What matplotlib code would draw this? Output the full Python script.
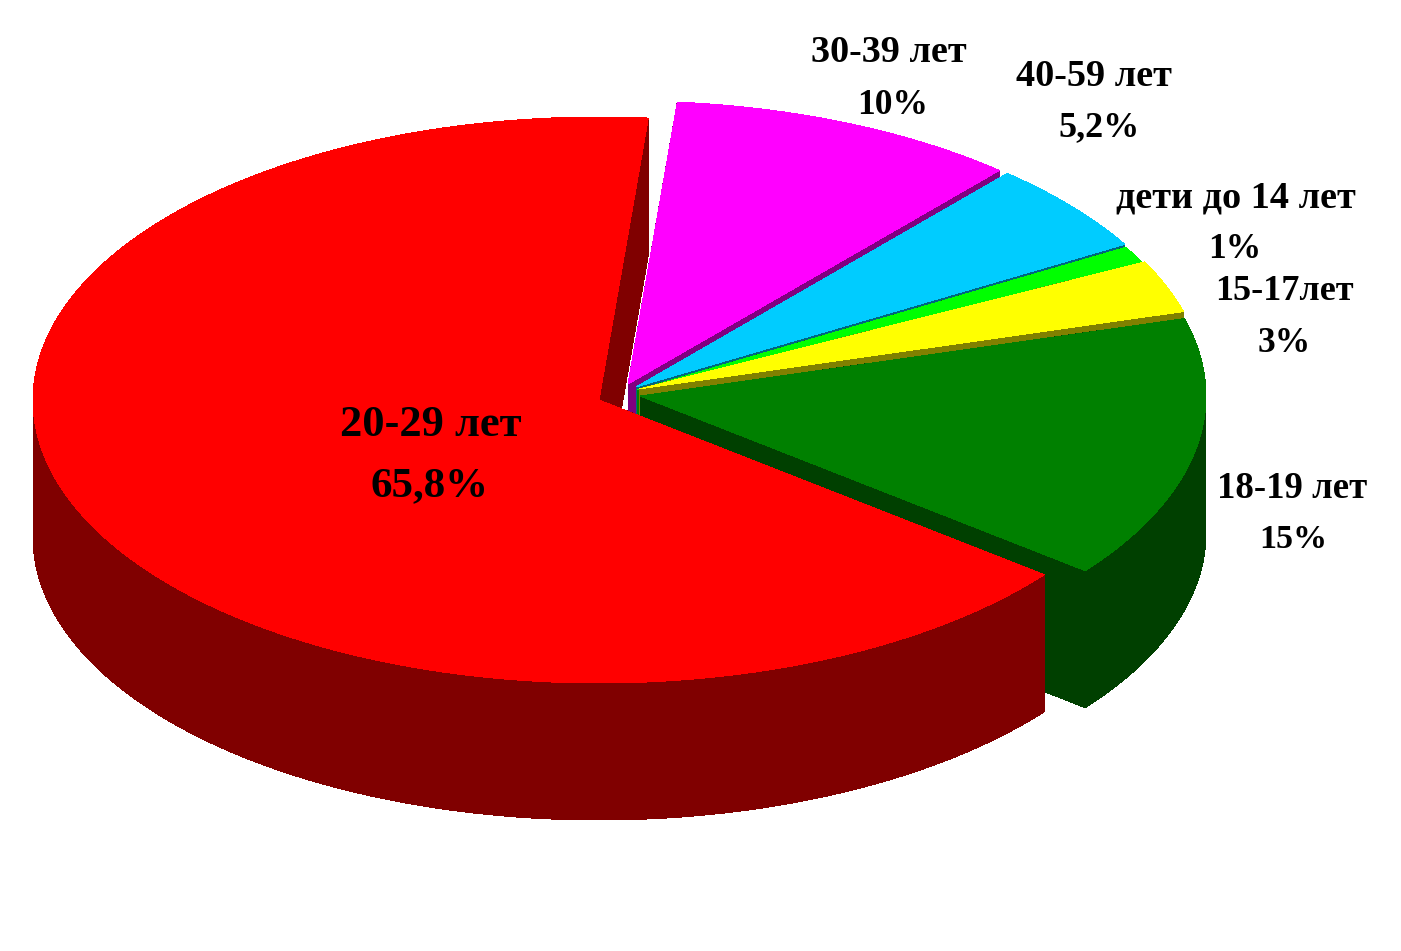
import numpy as np
import matplotlib
matplotlib.use("Agg")
import matplotlib.pyplot as plt

# ---- data (drawn clockwise from the top, back slice first) ----
categories = ["30-39 лет", "40-59 лет", "дети до 14 лет", "15-17лет", "18-19 лет", "20-29 лет"]
values = [10.0, 5.2, 1.0, 3.0, 15.0, 65.8]
value_labels = ["10%", "5,2%", "1%", "3%", "15%", "65,8%"]

# ---- style ----
top_colors = ["#FF00FF", "#00CCFF", "#00FF00", "#FFFF00", "#008000", "#FF0000"]
side_colors = ["#800080", "#006680", "#008000", "#808000", "#004000", "#800000"]
apex_x = [628, 636, 637, 639, 640, 599]
apex_y = [384, 387, 390, 389, 396, 400]
RX, RY, DEPTH = 566, 283, 137
ANGLE_TOP = 85.0   # where the red slice begins; the small slices end there

name_pos = [(889, 53), (1094, 77), (1236, 198), (1284, 292), (1292, 488), (431, 425)]
pct_pos = [(893, 105), (1099, 128), (1235, 249), (1284, 343), (1293, 540), (430, 486)]
name_sizes = [27.5, 27.5, 27.5, 26, 26.5, 32]
pct_sizes = [25.5, 26, 25.5, 25.5, 24.5, 31]

fig = plt.figure(figsize=(14.01, 9.51), dpi=100, facecolor="white")
ax = fig.add_axes([0, 0, 1, 1])
ax.set_xlim(0, 1401)
ax.set_ylim(951, 0)
ax.axis("off")


def arc(cx, cy, a0, a1):
    t = np.radians(np.linspace(a0, a1, max(int(abs(a1 - a0) * 4), 2)))
    return cx + RX * np.cos(t), cy - RY * np.sin(t)


def fill(x, y, color, z):
    ax.fill(x, y, color=color, lw=0, antialiased=False, zorder=z)


# Angular ranges, walking clockwise from the top of the pie.
spans = np.array(values) * 3.6
ends = ANGLE_TOP - np.concatenate([[0], np.cumsum(spans[:-1])])
starts = ends - spans

for i, (a0, a1) in enumerate(zip(starts, ends)):
    cx, cy = apex_x[i], apex_y[i]
    z = 2 + i
    # cut faces
    for a in (a0, a1):
        ex, ey = arc(cx, cy, a, a)
        ex, ey = ex[0], ey[0]
        fill([cx, ex, ex, cx], [cy, ey, ey + DEPTH, cy + DEPTH], side_colors[i], z)
    # outer wall: only the front half of the rim is visible
    lo, hi = max(a0, -180.0), min(a1, 0.0)
    if lo < hi:
        x, y = arc(cx, cy, lo, hi)
        fill(np.r_[x, x[::-1]], np.r_[y, y[::-1] + DEPTH], side_colors[i], z)
    # top
    x, y = arc(cx, cy, a0, a1)
    fill(np.r_[cx, x], np.r_[cy, y], top_colors[i], z)

for i in range(len(categories)):
    ax.text(*name_pos[i], categories[i], ha="center", va="center", fontsize=name_sizes[i],
            fontweight="bold", family="Liberation Serif", color="black", zorder=20)
    ax.text(*pct_pos[i], value_labels[i], ha="center", va="center", fontsize=pct_sizes[i],
            fontweight="bold", family="Liberation Serif", color="black", zorder=20)

fig.savefig("out.png", dpi=100, facecolor="white")
